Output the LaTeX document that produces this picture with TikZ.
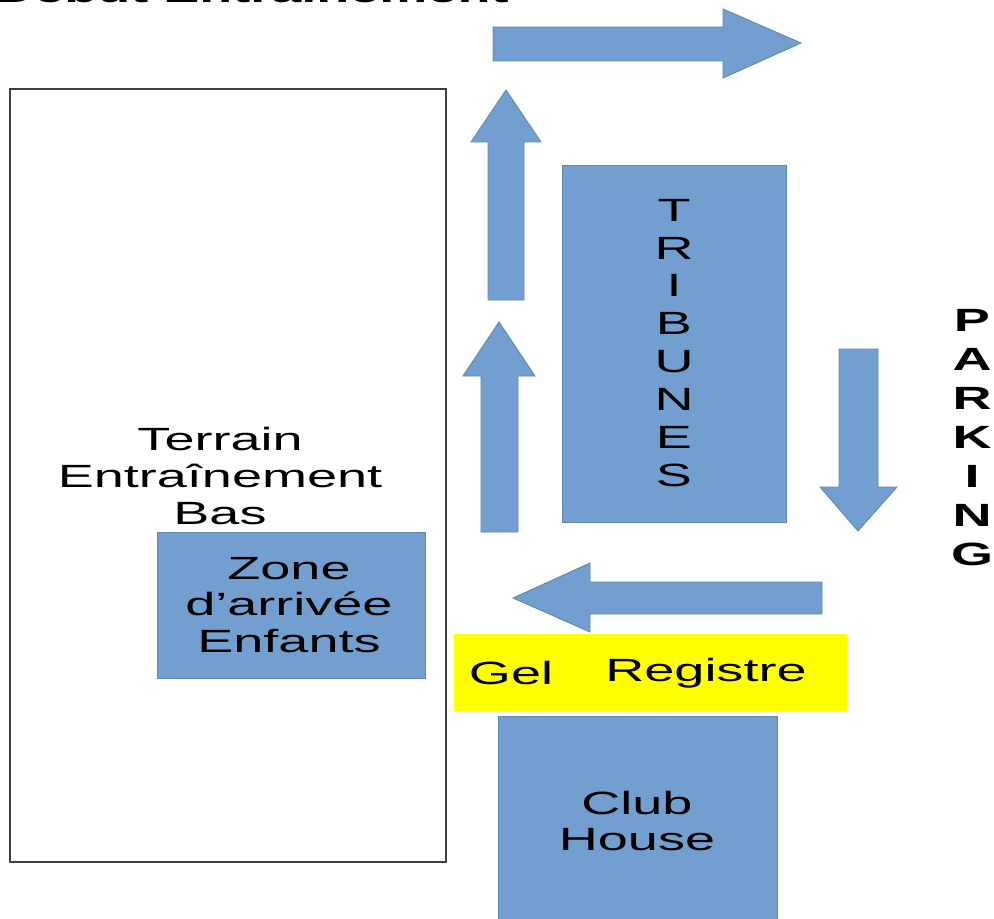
\documentclass[tikz,border=0pt]{standalone}
\usepackage{fontspec}
\setmainfont{Liberation Sans}[FakeStretch=1.68]
\definecolor{zoneblue}{RGB}{114,159,207}
\definecolor{gelyellow}{RGB}{255,255,0}

\begin{document}
\begin{tikzpicture}[x=0.02cm,y=-0.02cm,
  every node/.style={font=\fontsize{18.3}{21}\selectfont, align=center, inner sep=0pt},
  bloc/.style={fill=zoneblue, draw=zoneblue!85!black, line width=0.5pt},
  vertical/.style={font=\fontsize{18.3}{21.6}\selectfont}]
\clip (0,0) rectangle (994,919);
\fill[white] (0,0) rectangle (994,919);

% titre coupe en haut
\node[anchor=base west, font=\fontsize{18.3}{21}\bfseries] (titre) at (-5,3) {Début Entraînement};

% terrain
\draw[black!75, line width=0.8pt] (10,89) rectangle (446,862);
\node (terrain) at (220,476) {Terrain\\Entraînement\\Bas};
\filldraw[bloc] (157,532) rectangle (425,678);
\node (zone) at (289,605) {Zone\\d’arrivée\\Enfants};

% tribunes
\filldraw[bloc] (562,165) rectangle (786,522);
\node[vertical] (tribunes) at (674,343) {T\\R\\I\\B\\U\\N\\E\\S};

% parking
\node[vertical, font=\fontsize{18.3}{22.2}\bfseries] (parking) at (972,438) {P\\A\\R\\K\\I\\N\\G};

% gel et registre
\fill[gelyellow] (454,634) rectangle (847,711);
\node (gel) at (511,673) {Gel};
\node (registre) at (706,673) {Registre};

% club house
\filldraw[bloc] (498,716) rectangle (777,930);
\node (club) at (637,821) {Club\\House};

% fleches
\filldraw[bloc] (493,27) -- (723,27) -- (723,9) -- (801,43) -- (723,78) -- (723,61) -- (493,61) -- cycle;
\filldraw[bloc] (488,300) -- (488,142) -- (471,142) -- (506,90) -- (541,142) -- (524,142) -- (524,300) -- cycle;
\filldraw[bloc] (481,532) -- (481,376) -- (463,376) -- (499,322) -- (535,376) -- (518,376) -- (518,532) -- cycle;
\filldraw[bloc] (839,349) -- (878,349) -- (878,487) -- (897,487) -- (858,531) -- (820,487) -- (839,487) -- cycle;
\filldraw[bloc] (822,582) -- (590,582) -- (590,563) -- (513,598) -- (590,632) -- (590,614) -- (822,614) -- cycle;
\end{tikzpicture}
\end{document}
